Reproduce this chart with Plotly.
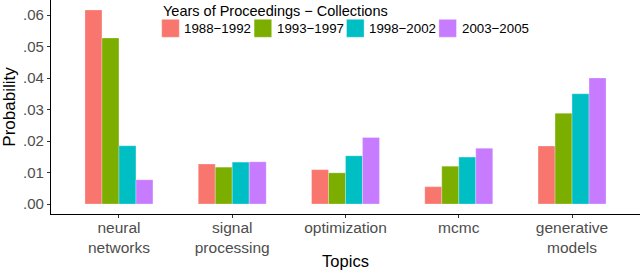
import plotly.graph_objects as go

topics = ["neural<br>networks", "signal<br>processing", "optimization", "mcmc", "generative<br>models"]
periods = ["1988−1992", "1993−1997", "1998−2002", "2003−2005"]
v_1988_1992 = [0.0616, 0.0127, 0.0109, 0.0055, 0.0184]
v_1993_1997 = [0.0527, 0.0117, 0.0099, 0.0120, 0.0288]
v_1998_2002 = [0.0185, 0.0133, 0.0153, 0.0149, 0.0350]
v_2003_2005 = [0.0077, 0.0134, 0.0211, 0.0177, 0.0400]
series = [v_1988_1992, v_1993_1997, v_1998_2002, v_2003_2005]
colors = ["#F8766D", "#7CAE00", "#00BFC4", "#C77CFF"]
legend_title = "Years of Proceedings − Collections"
y_ticks = [0, 0.01, 0.02, 0.03, 0.04, 0.05, 0.06]
y_ticklabels = [".00", ".01", ".02", ".03", ".04", ".05", ".06"]

W, H = 640, 274
ML, MR, MT, MB = 51, 0, 0, 60
PW, PH = W - ML - MR, H - MT - MB

def px_x(px):
    return (px - ML) / PW

def px_y(py):
    return 1 - (py - MT) / PH

fig = go.Figure()
for name, vals, c in zip(periods, series, colors):
    fig.add_trace(go.Bar(x=topics, y=vals, name=name, marker_color=c,
                         marker_line=dict(color="rgba(255,255,255,0.45)", width=0.6),
                         showlegend=False, hoverinfo="skip"))

font = "Liberation Sans, Arial, Helvetica, sans-serif"

# manual legend (ggplot-style large keys)
shapes = []
annotations = [dict(text=legend_title, x=px_x(161), y=px_y(11.5), xref="paper", yref="paper",
                    xanchor="left", yanchor="middle", showarrow=False,
                    font=dict(size=14.5, color="black", family=font))]
key_left0, pitch, key_w, key_h = 161.7, 92.4, 17.6, 18
for i, (name, c) in enumerate(zip(periods, colors)):
    kl = key_left0 + i * pitch
    shapes.append(dict(type="rect", xref="paper", yref="paper",
                       x0=px_x(kl), x1=px_x(kl + key_w), y0=px_y(19.3 + key_h), y1=px_y(19.3),
                       fillcolor=c, line=dict(color="rgba(255,255,255,0.6)", width=0.6)))
    annotations.append(dict(text=name, x=px_x(kl + key_w + 3), y=px_y(28.3), xref="paper", yref="paper",
                            xanchor="left", yanchor="middle", showarrow=False,
                            font=dict(size=13.3, color="black", family=font)))

fig.update_layout(
    width=W, height=H,
    margin=dict(l=ML, r=MR, t=MT, b=MB, pad=0),
    barmode="group", bargap=0.4, bargroupgap=0,
    plot_bgcolor="white", paper_bgcolor="white",
    font=dict(family=font, size=15, color="#4D4D4D"),
    showlegend=False,
    shapes=shapes, annotations=annotations,
    xaxis=dict(showline=True, linecolor="black", linewidth=1.2, ticks="outside",
               ticklen=3, tickcolor="#333333", tickfont=dict(size=15.5, color="#4D4D4D"),
               ticklabelstandoff=-4,
               title=dict(text="Topics", font=dict(size=16.5, color="black"), standoff=0),
               range=[-0.6, 4.6], automargin=False),
    yaxis=dict(showline=True, linecolor="black", linewidth=1.2, ticks="outside",
               ticklen=3, tickcolor="#333333", showgrid=False, zeroline=False,
               tickvals=y_ticks, ticktext=y_ticklabels,
               tickfont=dict(size=15, color="#4D4D4D"),
               title=dict(text="Probability", font=dict(size=17, color="black"), standoff=5),
               range=[-0.00317, 0.06476], automargin=False),
)
fig.write_html("out.html", config={"displayModeBar": False},
               post_script="document.body.style.margin='0';document.body.style.padding='0';")
